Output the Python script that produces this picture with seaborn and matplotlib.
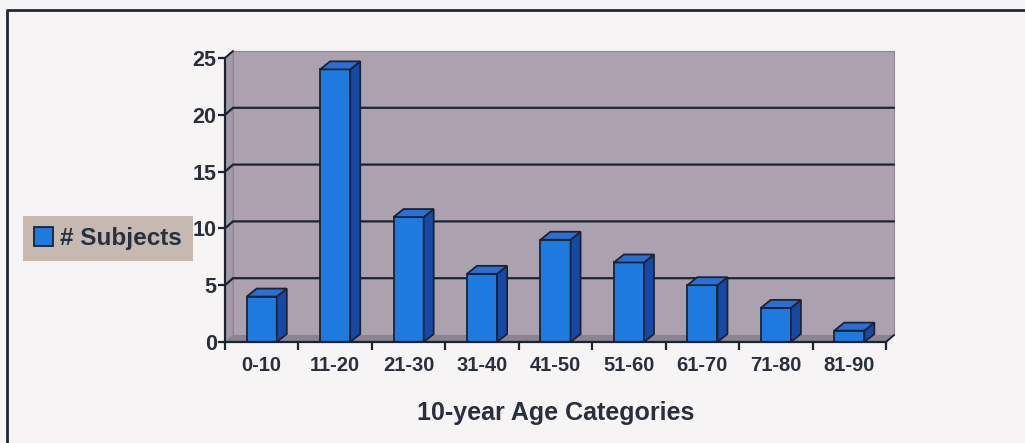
import numpy as np
import pandas as pd
import seaborn as sns
from matplotlib import pyplot as plt
from matplotlib.patches import Polygon
from matplotlib.lines import Line2D
from matplotlib.transforms import IdentityTransform

# %% data
AgeCats = ['0-10', '11-20', '21-30', '31-40', '41-50', '51-60', '61-70', '71-80', '81-90']
Subjects = [4, 24, 11, 6, 9, 7, 5, 3, 1]
YTicks = [0, 5, 10, 15, 20, 25]

dfData = pd.DataFrame({'Age': AgeCats, 'Subjects': Subjects})

sns.set_style('white')
plt.rcParams['font.family'] = ['Liberation Sans', 'DejaVu Sans']
plt.rcParams['font.weight'] = 'bold'

TxtCol = '#29303c'
EdgeCol = '#1b2332'
FrontCol = '#1f7ae0'
SideCol = '#1549a8'
TopCol = '#2b6fd4'
WallCol = '#aca2af'
FloorCol = '#8b8390'
SideWallCol = '#a29aa6'

fig = plt.figure(figsize=(10.25, 4.43), dpi=100, facecolor='#f7f4f5')
ax = fig.add_axes([225 / 1025, 101 / 443, 661 / 1025, 284 / 443])
ax.patch.set_alpha(0)

sns.barplot(data=dfData, x='Age', y='Subjects', color=FrontCol, saturation=1,
            width=0.41, edgecolor=EdgeCol, linewidth=1.3, ax=ax, zorder=3,
            label='# Subjects')
bars = list(ax.patches)

ax.set_xlim(-0.5, len(AgeCats) - 0.5)
ax.set_ylim(0, 25)
ax.set_yticks(YTicks)
ax.set_xticks(np.arange(-0.5, len(AgeCats)), minor=True)

# 3d look: pixel offsets of the back wall
ox, oy = 8, 7
(X0, Y0), (X1, Y1) = ax.transData.transform([(-0.5, 0), (len(AgeCats) - 0.5, 25)])


def addpoly(pts, fc, ec='none', lw=0, z=0.2):
    p = Polygon(pts, closed=True, facecolor=fc, edgecolor=ec, linewidth=lw,
                transform=IdentityTransform(), clip_on=False, zorder=z)
    ax.add_patch(p)


addpoly([(X0 + ox, Y0 + oy), (X1 + ox, Y0 + oy), (X1 + ox, Y1 + oy), (X0 + ox, Y1 + oy)],
        WallCol, ec='#8f8794', lw=0.8)
addpoly([(X0, Y0), (X0 + ox, Y0 + oy), (X0 + ox, Y1 + oy), (X0, Y1)], SideWallCol,
        ec='#8f8794', lw=0.8)
addpoly([(X0, Y0), (X1, Y0), (X1 + ox, Y0 + oy), (X0 + ox, Y0 + oy)], FloorCol)

for yv in YTicks[1:-1]:
    _, Yd = ax.transData.transform((0, yv))
    ax.add_line(Line2D([X0, X0 + ox, X1 + ox], [Yd, Yd + oy, Yd + oy], color=EdgeCol,
                       lw=1.6, transform=IdentityTransform(), clip_on=False, zorder=0.5))
_, Yt = ax.transData.transform((0, 25))
ax.add_line(Line2D([X0, X0 + ox], [Yt, Yt + oy], color=EdgeCol, lw=1.4,
                   transform=IdentityTransform(), clip_on=False, zorder=0.5))
ax.add_line(Line2D([X1, X1 + ox], [Y0, Y0 + oy], color=EdgeCol, lw=1.4,
                   transform=IdentityTransform(), clip_on=False, zorder=0.5))

# bar sides and tops
bx, by = 10, 8
for b in bars:
    (bx0, by0), (bx1, by1) = ax.transData.transform(
        [(b.get_x(), 0), (b.get_x() + b.get_width(), b.get_height())])
    addpoly([(bx1, by0), (bx1 + bx, by0 + by), (bx1 + bx, by1 + by), (bx1, by1)],
            SideCol, ec=EdgeCol, lw=1.3, z=3)
    addpoly([(bx0, by1), (bx1, by1), (bx1 + bx, by1 + by), (bx0 + bx, by1 + by)],
            TopCol, ec=EdgeCol, lw=1.3, z=3)

for s in ['top', 'right']:
    ax.spines[s].set_visible(False)
for s in ['left', 'bottom']:
    ax.spines[s].set_color(EdgeCol)
    ax.spines[s].set_linewidth(1.6)
    ax.spines[s].set_zorder(4)

ax.tick_params(axis='y', which='major', direction='out', length=5, width=1.6,
               color=EdgeCol, pad=1, labelsize=15.5, labelcolor=TxtCol, left=True)
ax.tick_params(axis='x', which='major', length=0, pad=10, labelsize=14.5, labelcolor=TxtCol)
ax.tick_params(axis='x', which='minor', direction='out', length=6, width=1.6,
               color=EdgeCol, bottom=True)
for t in ax.get_xticklabels() + ax.get_yticklabels():
    t.set_fontweight('bold')

ax.set_ylabel('')
ax.set_xlabel('10-year Age Categories', fontsize=18, fontweight='bold', color=TxtCol,
              labelpad=19)

leg = ax.legend(loc='center', bbox_to_anchor=(108 / 1025, 1 - 238.5 / 443),
                bbox_transform=fig.transFigure, fancybox=False, framealpha=1,
                facecolor='#c5b9b2', edgecolor='none', handlelength=0.8,
                handleheight=0.8, handletextpad=0.3, borderpad=0.45,
                borderaxespad=0, prop={'weight': 'bold', 'size': 17.5})
for t in leg.get_texts():
    t.set_color(TxtCol)

# outer frame (left and top edges only are visible)
fig.add_artist(Line2D([7 / 1025, 7 / 1025, 1], [0, 1 - 10 / 443, 1 - 10 / 443],
                      transform=fig.transFigure, color='#222833', lw=2))

fig.savefig('out.png', dpi=100, facecolor=fig.get_facecolor())
